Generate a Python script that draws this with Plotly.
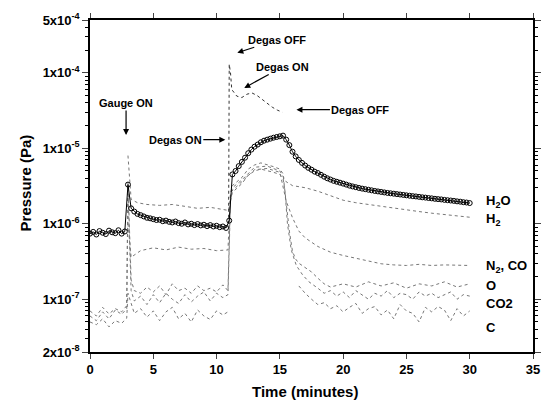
import numpy as np
import plotly.graph_objects as go

# ---------------- data ----------------
h2o_t = list(np.arange(0, 30.001, 0.25))
h2o_v = [7.4e-7, 7.8e-7, 7.2e-7, 8.0e-7, 7.6e-7, 7.3e-7, 8.1e-7, 7.7e-7, 7.5e-7, 8.2e-7, 7.4e-7, 7.9e-7,
         3.3e-6, 1.6e-6, 1.45e-6, 1.35e-6, 1.3e-6, 1.25e-6, 1.2e-6, 1.18e-6, 1.15e-6, 1.12e-6, 1.13e-6, 1.08e-6,
         1.1e-6, 1.06e-6, 1.04e-6, 1.07e-6, 1.02e-6, 1.0e-6, 1.04e-6, 0.98e-6, 1.0e-6, 0.96e-6, 0.99e-6, 0.95e-6,
         0.97e-6, 0.93e-6, 0.96e-6, 0.92e-6, 0.94e-6, 0.9e-6, 0.92e-6, 0.88e-6,
         1.1e-6, 4.5e-6, 5.0e-6, 5.8e-6, 6.6e-6, 7.5e-6, 8.6e-6, 9.6e-6, 1.05e-5, 1.12e-5, 1.2e-5, 1.26e-5,
         1.3e-5, 1.34e-5, 1.38e-5, 1.41e-5, 1.44e-5, 1.47e-5, 1.3e-5, 1.1e-5, 9.0e-6, 7.8e-6, 7.0e-6, 6.4e-6,
         5.9e-6, 5.5e-6, 5.2e-6, 4.9e-6, 4.7e-6, 4.45e-6, 4.2e-6, 4.0e-6, 3.85e-6, 3.7e-6, 3.6e-6, 3.5e-6,
         3.4e-6, 3.3e-6, 3.2e-6, 3.12e-6, 3.05e-6, 2.98e-6, 2.92e-6, 2.87e-6, 2.82e-6, 2.77e-6, 2.72e-6, 2.68e-6,
         2.64e-6, 2.6e-6, 2.56e-6, 2.53e-6, 2.5e-6, 2.47e-6, 2.44e-6, 2.41e-6, 2.38e-6, 2.35e-6, 2.32e-6, 2.3e-6,
         2.27e-6, 2.24e-6, 2.22e-6, 2.19e-6, 2.17e-6, 2.14e-6, 2.12e-6, 2.1e-6, 2.07e-6, 2.05e-6, 2.03e-6, 2.01e-6,
         1.98e-6, 1.96e-6, 1.93e-6, 1.91e-6, 1.88e-6]

total_t = [10.95, 11.0, 11.1, 11.2, 11.6, 12.0, 12.4, 12.8, 13.2, 13.6, 14.0, 14.4, 14.8, 15.2]
total_v = [1.0e-6, 1.3e-4, 1.0e-4, 6.0e-5, 4.9e-5, 4.7e-5, 5.2e-5, 5.4e-5, 5.0e-5, 4.4e-5, 3.9e-5, 3.5e-5, 3.2e-5, 3.0e-5]

h2_t = [3.0, 3.25, 3.75, 4.5, 5.5, 6.5, 7.5, 8.5, 9.5, 10.5, 10.95, 11.25, 12.0, 13.0, 14.0, 15.0, 15.5, 16.0,
        17.0, 18.0, 19.0, 20.0, 21.0, 22.0, 23.0, 24.0, 25.0, 26.0, 27.0, 28.0, 29.0, 30.0]
h2_v = [8.0e-6, 2.1e-6, 1.9e-6, 1.8e-6, 1.75e-6, 1.8e-6, 1.7e-6, 1.6e-6, 1.65e-6, 1.55e-6, 1.5e-6, 3.0e-6,
        3.8e-6, 5.6e-6, 5.8e-6, 5.0e-6, 3.6e-6, 3.2e-6, 3.0e-6, 2.7e-6, 2.35e-6, 2.05e-6, 1.9e-6, 1.8e-6,
        1.7e-6, 1.6e-6, 1.5e-6, 1.45e-6, 1.38e-6, 1.32e-6, 1.27e-6, 1.22e-6]

n2co_t = [3.0, 3.25, 4, 5, 6, 7, 8, 9, 10, 10.9, 11.1, 12, 13, 14, 15, 15.5, 16, 16.5, 17, 18, 19, 20,
          21, 22, 23, 24, 25, 26, 27, 28, 29, 30]
n2co_v = [1.0e-6, 3.6e-7, 4.4e-7, 4.8e-7, 4.5e-7, 4.9e-7, 4.6e-7, 4.7e-7, 4.4e-7, 4.5e-7, 2.6e-6, 3.6e-6,
          5.2e-6, 5.4e-6, 4.8e-6, 2.0e-6, 1.2e-6, 8.0e-7, 6.5e-7, 5.0e-7, 4.2e-7, 3.8e-7, 3.5e-7, 3.2e-7,
          2.95e-7, 2.85e-7, 2.8e-7, 2.9e-7, 2.8e-7, 2.85e-7, 2.8e-7, 2.8e-7]

o_t = [0, 0.5, 1, 1.5, 2, 2.5, 2.9, 3.0, 3.25, 3.5, 4, 4.5, 5, 5.5, 6, 6.5, 7, 7.5, 8, 8.5, 9, 9.5, 10, 10.5,
       10.9, 11.1, 11.25, 11.5, 12, 12.5, 13, 13.5, 14, 14.5, 15, 15.25, 15.5, 15.75, 16, 16.25, 16.5, 17,
       17.5, 18, 18.5, 19, 20, 21, 22, 23, 24, 25, 26, 27, 28, 29, 30]
o_v = [7.0e-8, 6.0e-8, 7.8e-8, 6.4e-8, 7.5e-8, 6.8e-8, 8.2e-8, 3.5e-6, 1.8e-7, 1.3e-7, 1.2e-7, 1.45e-7,
       1.25e-7, 1.5e-7, 1.15e-7, 1.6e-7, 1.3e-7, 1.4e-7, 1.2e-7, 1.5e-7, 1.3e-7, 1.4e-7, 1.25e-7, 1.55e-7,
       1.3e-7, 2.5e-6, 3.2e-6, 3.5e-6, 4.1e-6, 5.3e-6, 6.0e-6, 6.4e-6, 6.1e-6, 5.7e-6, 5.3e-6, 4.6e-6,
       1.9e-6, 8.0e-7, 4.3e-7, 3.4e-7, 3.0e-7, 2.6e-7, 2.3e-7, 1.9e-7, 1.6e-7, 1.45e-7, 1.6e-7, 1.45e-7,
       1.7e-7, 1.5e-7, 1.65e-7, 1.4e-7, 1.6e-7, 1.5e-7, 1.7e-7, 1.45e-7, 1.6e-7]

co2_t = [0, 0.5, 1, 1.5, 2, 2.5, 2.9, 3.0, 3.25, 3.5, 4, 4.5, 5, 5.5, 6, 6.5, 7, 7.5, 8, 8.5, 9, 9.5, 10,
         10.5, 10.9, 11.1, 11.25, 12, 12.5, 13, 13.5, 14, 14.5, 15, 15.25, 15.4, 15.6, 15.9, 16.3, 16.8, 17.3,
         18, 18.5, 19, 19.5, 20, 20.5, 21, 21.5, 22, 22.5, 23, 23.5, 24, 24.5, 25, 25.5, 26, 26.5, 27, 27.5,
         28, 28.5, 29, 29.5, 30]
co2_v = [6.0e-8, 5.2e-8, 6.8e-8, 5.5e-8, 7.2e-8, 6.3e-8, 7.5e-8, 2.5e-6, 1.3e-7, 9.5e-8, 1.1e-7, 8.5e-8,
         1.15e-7, 9.0e-8, 1.2e-7, 1.0e-7, 8.8e-8, 1.15e-7, 9.2e-8, 1.1e-7, 1.25e-7, 9.5e-8, 1.2e-7, 1.05e-7,
         1.15e-7, 2.0e-6, 2.6e-6, 3.4e-6, 4.4e-6, 5.0e-6, 5.3e-6, 5.1e-6, 4.8e-6, 4.5e-6, 4.0e-6, 2.8e-6,
         1.0e-6, 4.5e-7, 2.8e-7, 2.1e-7, 1.7e-7, 1.4e-7, 1.2e-7, 1.3e-7, 1.1e-7, 1.25e-7, 1.05e-7, 1.3e-7,
         1.15e-7, 1.0e-7, 1.2e-7, 1.1e-7, 1.3e-7, 1.05e-7, 1.2e-7, 1.15e-7, 1.0e-7, 1.25e-7, 1.1e-7, 1.2e-7,
         1.05e-7, 1.15e-7, 1.25e-7, 1.0e-7, 1.15e-7, 1.1e-7]

c_t = [0, 0.5, 1, 1.5, 2, 2.5, 2.9, 3.0, 3.5, 4, 4.5, 5, 5.5, 6, 6.5, 7, 7.5, 8, 8.5, 9, 9.5, 10, 10.5, 10.9,
       11.0, 16.5, 17, 17.5, 18, 18.5, 19, 19.5, 20, 20.5, 21, 21.5, 22, 22.5, 23, 23.5, 24, 24.5, 25, 25.5,
       26, 26.5, 27, 27.5, 28, 28.5, 29, 29.5, 30]
c_v = [5.0e-8, 4.6e-8, 5.5e-8, 4.3e-8, 5.2e-8, 4.8e-8, 5.6e-8, 1.2e-7, 6.5e-8, 7.5e-8, 5.8e-8, 7.0e-8,
       5.2e-8, 6.8e-8, 7.8e-8, 5.5e-8, 6.5e-8, 5.0e-8, 7.2e-8, 6.0e-8, 5.4e-8, 7.0e-8, 6.2e-8, 6.8e-8,
       None, 1.5e-7, 1.2e-7, 1.0e-7, 8.5e-8, 9.0e-8, 7.5e-8, 8.2e-8, 6.8e-8, 7.8e-8, 8.8e-8, 6.5e-8, 7.5e-8,
       8.0e-8, 6.2e-8, 7.2e-8, 5.5e-8, 8.5e-8, 7.0e-8, 6.5e-8, 5.0e-8, 7.8e-8, 6.8e-8, 8.0e-8, 7.2e-8,
       5.2e-8, 7.5e-8, 6.0e-8, 7.0e-8]

y_tickvals = [2e-8, 1e-7, 1e-6, 1e-5, 1e-4, 5e-4]
y_ticktext = ["2x10<sup>-8</sup>", "1x10<sup>-7</sup>", "1x10<sup>-6</sup>", "1x10<sup>-5</sup>",
              "1x10<sup>-4</sup>", "5x10<sup>-4</sup>"]
x_tickvals = [0, 5, 10, 15, 20, 25, 30, 35]

species_labels = ["H<sub>2</sub>O", "H<sub>2</sub>", "N<sub>2</sub>, CO", "O", "CO2", "C"]
species_label_y = [1.95e-6, 1.15e-6, 2.7e-7, 1.5e-7, 8.8e-8, 4.2e-8]

# ---------------- figure ----------------
FONT = "Liberation Sans, Arial, sans-serif"
bold = lambda s: "<b>" + s + "</b>"
fig = go.Figure()

low_style = dict(mode="lines", line=dict(color="#777777", width=1, dash="dot"),
                 showlegend=False, hoverinfo="skip", connectgaps=False)
for tt, vv in [(c_t, c_v), (co2_t, co2_v), (o_t, o_v), (n2co_t, n2co_v), (h2_t, h2_v)]:
    fig.add_trace(go.Scatter(x=tt, y=vv, **low_style))

fig.add_trace(go.Scatter(x=total_t, y=total_v, mode="lines",
                         line=dict(color="#333333", width=1, dash="dot"), showlegend=False))

fig.add_trace(go.Scatter(x=h2o_t, y=h2o_v, mode="lines+markers",
                         line=dict(color="black", width=1),
                         marker=dict(symbol="circle-open", size=5, color="black", line=dict(width=1)),
                         showlegend=False))

minor_vals = [m * 10.0 ** e for e in range(-8, -3) for m in range(2, 10) if 2e-8 <= m * 10.0 ** e <= 5e-4]

fig.update_xaxes(range=[0, 35], tickvals=x_tickvals, ticktext=[bold(str(v)) for v in x_tickvals],
                 ticks="outside", ticklen=5, tickwidth=1.2, automargin=False,
                 showline=True, linecolor="black", linewidth=1.5, mirror="ticks", showgrid=False,
                 zeroline=False, tickfont=dict(family=FONT, size=13, color="black"))
fig.update_yaxes(type="log", range=[np.log10(2e-8), np.log10(5e-4)], tickvals=y_tickvals,
                 ticktext=[bold(s) for s in y_ticktext], ticks="outside", ticklen=6, tickwidth=1.2,
                 automargin=False,
                 showline=True, linecolor="black", linewidth=1.5, mirror="ticks", showgrid=False,
                 zeroline=False, tickfont=dict(family=FONT, size=13, color="black"),
                 minor=dict(tickvals=minor_vals, ticks="outside", ticklen=3, tickcolor="black"))

ann = []
# axis titles
ann.append(dict(text=bold("Pressure (Pa)"), xref="paper", yref="paper", x=-0.145, y=0.51,
                xanchor="center", yanchor="middle",
                textangle=-90, showarrow=False, font=dict(family=FONT, size=15, color="black")))
ann.append(dict(text=bold("Time (minutes)"), xref="paper", yref="paper", x=0.486, y=-0.12,
                xanchor="center", yanchor="middle",
                showarrow=False, font=dict(family=FONT, size=15, color="black")))
# event annotations
afont = dict(family=FONT, size=11, color="black")
arrow = dict(showarrow=True, arrowhead=2, arrowsize=1, arrowwidth=1.2, arrowcolor="black",
             xref="x", yref="y", font=afont)
ann.append(dict(text=bold("Gauge ON"), x=2.85, y=np.log10(1.5e-5), ax=0, ay=-32, **arrow))
ann.append(dict(text=bold("Degas ON"), x=10.69, y=np.log10(1.3e-5), ax=-50, ay=0, **arrow))
ann.append(dict(text=bold("Degas OFF"), x=11.64, y=np.log10(1.84e-4), ax=40, ay=-13, **arrow))
ann.append(dict(text=bold("Degas ON"), x=12.19, y=np.log10(6.3e-5), ax=38, ay=-21, **arrow))
ann.append(dict(text=bold("Degas OFF"), x=16.31, y=np.log10(3.24e-5), ax=64, ay=0, **arrow))
# species labels
for lab, yv in zip(species_labels, species_label_y):
    ann.append(dict(text=bold(lab), x=31.1, y=np.log10(yv), xref="x", yref="y", xanchor="left",
                    yanchor="middle", showarrow=False, font=dict(family=FONT, size=13, color="black")))

fig.update_layout(width=547, height=408, margin=dict(l=90, r=14, t=20, b=56, autoexpand=False),
                  plot_bgcolor="white", paper_bgcolor="white", annotations=ann,
                  font=dict(family=FONT, color="black"))

# remove the browser's default 8px body margin so the 547x408 figure fills the window exactly
fig.write_html("out.html", config={"displayModeBar": False},
               post_script="document.body.style.margin='0px';document.body.style.overflow='hidden';")
